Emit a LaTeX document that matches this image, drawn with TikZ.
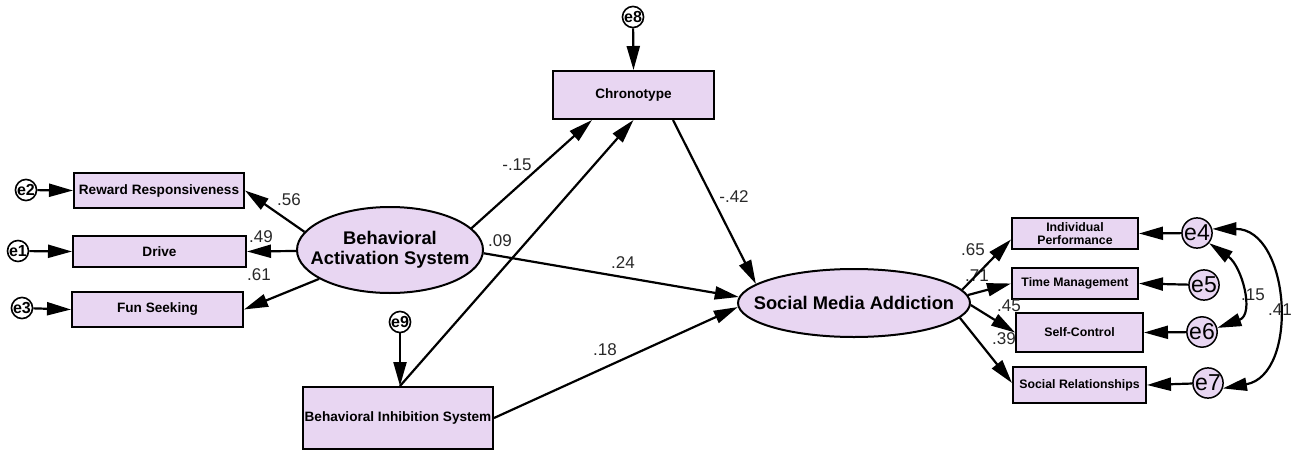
\documentclass[tikz,border=0pt]{standalone}
\usepackage{fontspec}
\setmainfont{Liberation Sans}
\usetikzlibrary{arrows.meta,shapes.geometric,calc}
\definecolor{lav}{RGB}{232,214,242}
\definecolor{lbl}{RGB}{40,40,40}
\begin{document}
\begin{tikzpicture}[x=1pt,y=1pt,
  obs/.style={draw=black,line width=2pt,fill=lav,inner sep=0pt,font=\fontsize{13.6}{14}\selectfont\bfseries},
  rbox/.style={obs,font=\fontsize{12.3}{13.5}\selectfont\bfseries},
  lat/.style={draw=black,line width=2pt,fill=lav,ellipse,inner ysep=0pt,font=\fontsize{18.3}{20}\selectfont\bfseries},
  errs/.style={draw=black,line width=1.6pt,fill=white,circle,minimum size=19pt,inner sep=0pt,font=\fontsize{16}{16}\selectfont\bfseries},
  errb/.style={draw=black,line width=1.5pt,fill=lav,circle,minimum size=27pt,inner sep=0pt,font=\fontsize{23}{23}\selectfont},
  coef/.style={text=lbl,font=\fontsize{17}{17}\selectfont,inner sep=0pt},
  pth/.style={line width=2.2pt,-{Triangle[length=24pt,width=13pt]}},
  cov/.style={line width=2.2pt,{Triangle[length=24pt,width=13pt]}-{Triangle[length=24pt,width=13pt]}}]
\useasboundingbox (0,0) rectangle (1295,-452);
% observed boxes
\node[obs,minimum width=170pt,minimum height=35pt] (rr) at (159,-190.5) {Reward Responsiveness};
\node[obs,minimum width=173pt,minimum height=31pt] (drive) at (159.5,-251.5) {Drive};
\node[obs,minimum width=171pt,minimum height=35pt] (fs) at (157.5,-309.5) {Fun Seeking};
\node[obs,minimum width=161pt,minimum height=48pt] (chrono) at (633.5,-95) {Chronotype};
\node[obs,minimum width=190pt,minimum height=62pt] (bis) at (398,-418) {Behavioral Inhibition System};
\node[rbox,minimum width=126pt,minimum height=31pt,align=center] (ip) at (1075,-233.5) {Individual\\Performance};
\node[rbox,minimum width=126pt,minimum height=31pt] (tm) at (1075,-283.5) {Time Management};
\node[rbox,minimum width=127pt,minimum height=39pt] (sc) at (1079.5,-332.5) {Self-Control};
\node[rbox,minimum width=133pt,minimum height=36pt] (sr) at (1079.5,-385) {Social Relationships};
% latent
\node[lat,inner xsep=-16pt,minimum width=186pt,minimum height=86pt,align=center] (bas) at (390,-250) {Behavioral\\Activation System};
\node[lat,inner xsep=-22pt,minimum width=232pt,minimum height=68pt] (sma) at (854,-303) {Social Media Addiction};
% errors
\node[errs] (e2) at (26,-190) {e2};
\node[errs] (e1) at (18,-251) {e1};
\node[errs] (e3) at (22,-308) {e3};
\node[errs] (e8) at (633,-17) {e8};
\node[errs] (e9) at (400,-322) {e9};
\node[errb] (e4) at (1197,-233) {e4};
\node[errb] (e5) at (1204,-285) {e5};
\node[errb] (e6) at (1202,-332) {e6};
\node[errb] (e7) at (1208,-383) {e7};
% coefficients
\node[coef] (c1) at (289,-200) {.56};
\node[coef] (c2) at (261,-237) {.49};
\node[coef] (c3) at (259,-275) {.61};
\node[coef] (c4) at (517,-165) {-.15};
\node[coef] (c5) at (500,-241) {.09};
\node[coef] (c6) at (623,-263) {.24};
\node[coef] (c7) at (605,-350) {.18};
\node[coef] (c8) at (734,-197) {-.42};
\node[coef] (c9) at (973,-250) {.65};
\node[coef] (c10) at (977,-276) {.71};
\node[coef] (c11) at (1009,-306) {.45};
\node[coef] (c12) at (1004,-339) {.39};
\node[coef] (c13) at (1253,-295) {.15};
\node[coef] (c14) at (1280,-310) {.41};
% error paths
\draw[pth] (e2) -- (rr.west);
\draw[pth] (e1) -- (drive.west);
\draw[pth] (e3) -- (fs.west);
\draw[pth] (e8) -- (chrono.north);
\draw[pth] (e9) -- (bis.north -| e9);
\draw[pth] (e4) -- (ip.east);
\draw[pth] (e5) -- (tm.east);
\draw[pth] (e6) -- (sc.east);
\draw[pth] (e7) -- (sr.east);
% structural paths
\draw[pth] (bas.168) -- (rr.east);
\draw[pth] (bas) -- (drive.east);
\draw[pth] (bas) -- (fs.east);
\draw[pth] (bas.15) -- (chrono.south -| 592,0);
\draw[pth] (bis.north -| e9) -- (chrono.south);
\draw[pth] (chrono.south -| 673,0) -- (sma.169);
\draw[pth] (bas.-2) -- (sma.177.5);
\draw[pth] (bis.east) -- (sma.182);
\draw[pth] (sma.7) -- ($(ip.west)+(0,-6)$);
\draw[pth] (sma.4.5) -- (tm.west);
\draw[pth] (sma.-1) -- (sc.west);
\draw[pth] (sma.-8) -- ($(sr.west)+(0,2)$);
% covariances
\draw[cov] (e4.-40) to[out=-35,in=20,looseness=1.2] (e6.15);
\draw[cov] (e4.15) to[out=0,in=10,looseness=1.25] (e7.-20);
\end{tikzpicture}
\end{document}
